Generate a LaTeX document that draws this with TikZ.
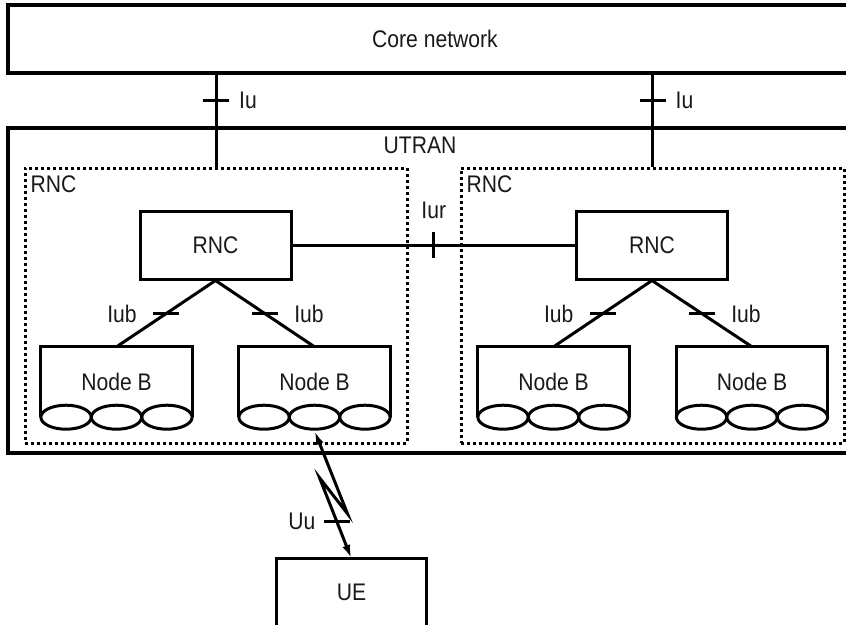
\documentclass[tikz,border=0pt]{standalone}
\usepackage{fontspec}
\setmainfont{Liberation Sans}[FakeStretch=0.88]
\usepackage{tikz}
\usetikzlibrary{arrows.meta,positioning,shapes.geometric,calc}

\begin{document}
\begin{tikzpicture}[
  x=1pt, y=-1pt,
  lbl/.style={font=\fontsize{24}{28}\selectfont, text=black!90, inner sep=0pt},
  outer/.style={rectangle, draw, line width=3.5pt, inner sep=0pt},
  grp/.style={rectangle, draw, line width=3pt, dash pattern=on 3pt off 3pt,
              inner sep=0pt, minimum height=275pt},
  blk/.style={rectangle, draw, line width=3pt, minimum width=151pt,
              minimum height=68pt, lbl},
  nodeb/.style={rectangle, minimum width=151pt, minimum height=70pt, lbl},
  cell/.style={ellipse, draw, line width=3pt, minimum width=50.33pt,
               minimum height=24pt, inner sep=0pt},
  lnk/.style={line width=3pt},
  radio/.style={lnk, {Latex[length=14pt,width=8pt]}-{Latex[length=14pt,width=8pt]}}
]
  \useasboundingbox (0,0) rectangle (846,625);
  \clip (0,0) rectangle (846,625);

  \node[outer, minimum width=854pt, minimum height=68pt, lbl] (core) at (435,39) {Core network};
  \node[outer, minimum width=880pt, minimum height=325pt] (utran) at (448,290.5) {};
  \node[lbl] (utranlbl) at (420,145) {UTRAN};

  \node[grp, minimum width=382pt] (rnca) at (216,305.5) {};
  \node[grp, minimum width=383pt] (rncb) at (652.5,305.5) {};
  \node[lbl, anchor=west] (rncalbl) at ([shift={(7,18)}]rnca.north west) {RNC};
  \node[lbl, anchor=west] (rncblbl) at ([shift={(7,18)}]rncb.north west) {RNC};

  \node[blk] (rnc1) at (215.5,245) {RNC};
  \node[blk] (rnc2) at (652,245) {RNC};

  \node[nodeb] (nb1) at (116.5,382) {Node B};
  \node[nodeb] (nb2) at (314.5,382) {Node B};
  \node[nodeb] (nb3) at (553.5,382) {Node B};
  \node[nodeb] (nb4) at (752,382) {Node B};
  \foreach \b in {nb1,nb2,nb3,nb4}{
    \draw[lnk] (\b.south west) -- (\b.north west) -- (\b.north east) -- (\b.south east);
    \foreach \k in {1,2,3}
      \node[cell] (\b-\k) at ($(\b.south west)!{(2*\k-1)/6}!(\b.south east)$) {};
  }

  \node[rectangle, minimum width=149pt, minimum height=66pt, lbl] (ue) at (351.5,592) {UE};
  \draw[lnk] (ue.south west) -- (ue.north west) -- (ue.north east) -- (ue.south east);

  % Iu
  \draw[lnk] (core.south -| rnca.north) -- coordinate[pos=.28] (iua) (rnca.north);
  \draw[lnk] (core.south -| rncb.north) -- coordinate[pos=.28] (iub) (rncb.north);
  \draw[lnk] ([xshift=-13pt]iua) -- ([xshift=13pt]iua);
  \draw[lnk] ([xshift=-13pt]iub) -- ([xshift=13pt]iub);
  \node[lbl] (iualbl) at ([xshift=32pt]iua) {Iu};
  \node[lbl] (iublbl) at ([xshift=32pt]iub) {Iu};

  % Iur
  \draw[lnk] (rnc1.east) -- coordinate[pos=.5] (iur) (rnc2.west);
  \draw[lnk] ([yshift=13pt]iur) -- ([yshift=-13pt]iur);
  \node[lbl] (iurlbl) at ([yshift=35pt]iur) {Iur};

  % Iub
  \draw[lnk] (rnc1.south) -- coordinate[pos=.5] (iub1) (nb1.north);
  \draw[lnk] (rnc1.south) -- coordinate[pos=.5] (iub2) (nb2.north);
  \draw[lnk] (rnc2.south) -- coordinate[pos=.5] (iub3) (nb3.north);
  \draw[lnk] (rnc2.south) -- coordinate[pos=.5] (iub4) (nb4.north);
  \foreach \t/\d in {iub1/-44,iub2/44,iub3/-44,iub4/44}{
    \draw[lnk] ([xshift=-13pt]\t) -- ([xshift=13pt]\t);
    \node[lbl] at ([xshift=\d pt]\t) {Iub};
  }

  % Uu
  \draw[radio] (nb2-2.south) -- ++(33,83) -- ++(-28,-36) -- coordinate[pos=.54] (uu) (ue.north);
  \draw[lnk] ([xshift=-13pt]uu) -- ([xshift=13pt]uu);
  \node[lbl] (uulbl) at ([xshift=-35pt]uu) {Uu};
\end{tikzpicture}
\end{document}
